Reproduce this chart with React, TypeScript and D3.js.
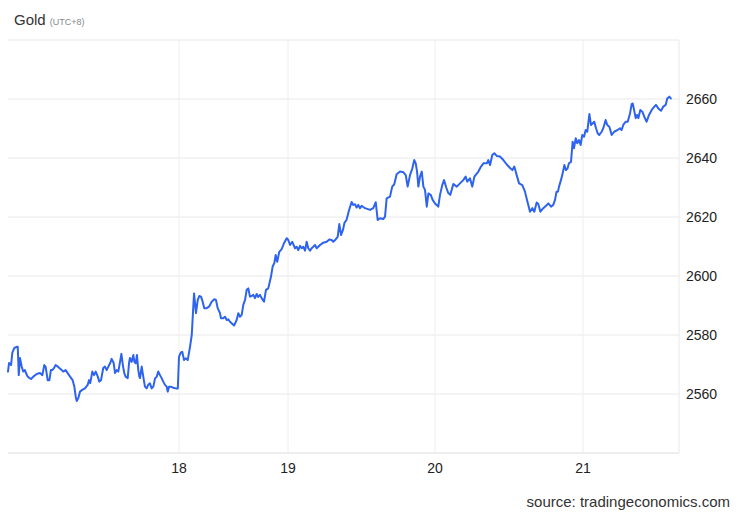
import React from "react";
import * as d3 from "d3";

// time as fractional day of month (UTC+8), price in USD/t.oz
const times = [
  17.0, 17.006, 17.018, 17.025, 17.037, 17.051, 17.057, 17.063, 17.07, 17.08,
  17.089, 17.099, 17.105, 17.115, 17.125, 17.135, 17.148, 17.168, 17.187, 17.201,
  17.212, 17.22, 17.232, 17.242, 17.251, 17.259, 17.269, 17.279, 17.291, 17.3,
  17.314, 17.323, 17.337, 17.349, 17.363, 17.378, 17.388, 17.396, 17.402, 17.411,
  17.421, 17.434, 17.45, 17.466, 17.474, 17.481, 17.493, 17.503, 17.513, 17.525,
  17.534, 17.544, 17.557, 17.567, 17.577, 17.587, 17.598, 17.606, 17.618, 17.626,
  17.636, 17.645, 17.655, 17.663, 17.673, 17.68, 17.688, 17.7, 17.708, 17.713,
  17.723, 17.733, 17.739, 17.747, 17.754, 17.762, 17.768, 17.772, 17.782, 17.791,
  17.801, 17.811, 17.82, 17.83, 17.84, 17.85, 17.86, 17.87, 17.879, 17.889,
  17.899, 17.908, 17.918, 17.928, 17.934, 17.942, 17.953, 17.967, 17.981, 17.993,
  18.0, 18.016, 18.03, 18.046, 18.061, 18.08, 18.101, 18.117, 18.128, 18.138,
  18.156, 18.172, 18.186, 18.202, 18.217, 18.232, 18.254, 18.275, 18.3, 18.324,
  18.339, 18.355, 18.376, 18.385, 18.406, 18.422, 18.438, 18.452, 18.468, 18.483,
  18.505, 18.529, 18.544, 18.56, 18.575, 18.59, 18.606, 18.621, 18.636, 18.651,
  18.667, 18.682, 18.697, 18.713, 18.727, 18.743, 18.758, 18.78, 18.798, 18.819,
  18.844, 18.859, 18.874, 18.887, 18.901, 18.92, 18.942, 18.963, 18.988,
  19.002, 19.014, 19.029, 19.048, 19.059, 19.07, 19.082, 19.093, 19.104, 19.116,
  19.127, 19.138, 19.15, 19.161, 19.172, 19.184, 19.195, 19.206, 19.218, 19.24,
  19.263, 19.281, 19.297, 19.308, 19.324, 19.338, 19.349, 19.361, 19.374, 19.384,
  19.398, 19.412, 19.422, 19.433, 19.444, 19.456, 19.467, 19.478, 19.49, 19.501,
  19.512, 19.524, 19.558, 19.58, 19.597, 19.61, 19.626, 19.648, 19.66, 19.671,
  19.694, 19.709, 19.723, 19.739, 19.762, 19.784, 19.801, 19.814, 19.83, 19.846,
  19.859, 19.869, 19.878, 19.887, 19.898, 19.91, 19.921, 19.932, 19.944, 19.955,
  19.971, 19.984, 20.0,
  20.011, 20.022, 20.034, 20.049, 20.061, 20.076, 20.09, 20.103, 20.124, 20.147,
  20.169, 20.191, 20.207, 20.218, 20.236, 20.252, 20.266, 20.293, 20.311, 20.327,
  20.35, 20.36, 20.372, 20.387, 20.401, 20.417, 20.439, 20.462, 20.485, 20.507,
  20.523, 20.536, 20.552, 20.568, 20.59, 20.608, 20.62, 20.642, 20.658, 20.671,
  20.687, 20.698, 20.712, 20.726, 20.743, 20.766, 20.784, 20.799, 20.811, 20.821,
  20.831, 20.838, 20.851, 20.86, 20.874, 20.885, 20.896, 20.905, 20.919, 20.93,
  20.939, 20.951, 20.961, 20.973, 20.984, 20.995,
  21.007, 21.018, 21.029, 21.043, 21.054, 21.066, 21.076, 21.088, 21.099, 21.11,
  21.126, 21.137, 21.153, 21.164, 21.178, 21.194, 21.211, 21.234, 21.25, 21.261,
  21.272, 21.288, 21.302, 21.318, 21.329, 21.336, 21.345, 21.356, 21.365, 21.374,
  21.387, 21.401, 21.414, 21.43, 21.446, 21.464, 21.482, 21.493, 21.509, 21.527,
  21.542, 21.559, 21.569, 21.583, 21.593,
];

const prices = [
  2567.6, 2570.5, 2569.8, 2573.9, 2575.6, 2576.0, 2576.0, 2566.4, 2572.2, 2569.3,
  2567.6, 2568.1, 2567.1, 2565.9, 2565.4, 2565.1, 2565.9, 2566.8, 2567.1, 2566.4,
  2569.8, 2569.3, 2564.7, 2564.7, 2568.1, 2568.1, 2568.8, 2569.8, 2569.3, 2568.8,
  2568.1, 2567.6, 2568.1, 2567.1, 2565.9, 2564.7, 2562.5, 2559.1, 2557.6, 2558.6,
  2560.8, 2561.4, 2561.9, 2563.1, 2564.7, 2563.7, 2567.6, 2566.4, 2567.6, 2565.9,
  2564.2, 2564.7, 2568.8, 2569.3, 2568.1, 2569.3, 2570.5, 2571.9, 2570.5, 2567.1,
  2568.1, 2567.6, 2570.8, 2573.6, 2569.3, 2567.1, 2565.9, 2565.4, 2570.5, 2572.2,
  2570.9, 2573.2, 2570.9, 2570.4, 2573.2, 2568.1, 2565.9, 2565.4, 2569.3, 2565.9,
  2562.5, 2561.9, 2563.1, 2563.6, 2561.9, 2562.5, 2565.3, 2565.9, 2567.6, 2566.4,
  2565.3, 2564.2, 2563.1, 2562.5, 2560.8, 2562.5, 2562.5, 2562.1, 2561.9, 2561.9,
  2572.6, 2574.0, 2574.3, 2571.5, 2572.1, 2571.5, 2576.0, 2580.0, 2587.5, 2594.1,
  2587.4, 2591.9, 2593.2, 2593.0, 2591.3, 2589.1, 2589.1, 2589.6, 2591.3, 2592.1,
  2591.9, 2589.1, 2587.4, 2585.7, 2585.7, 2586.2, 2585.1, 2585.3, 2584.5, 2584.0,
  2583.2, 2585.1, 2587.4, 2586.2, 2586.8, 2590.2, 2591.9, 2595.3, 2595.8, 2593.0,
  2593.2, 2593.6, 2592.5, 2593.9, 2592.9, 2593.6, 2592.5, 2591.3, 2595.3, 2595.8,
  2599.8, 2603.2, 2604.3, 2607.1, 2604.8, 2608.2, 2609.1, 2611.1, 2612.8,
  2612.2, 2610.5, 2611.6, 2609.4, 2609.9, 2608.8, 2610.2, 2609.4, 2609.9, 2608.6,
  2611.6, 2609.4, 2608.6, 2609.4, 2609.9, 2610.5, 2609.4, 2609.9, 2610.5, 2611.3,
  2611.6, 2612.4, 2612.2, 2611.6, 2612.4, 2613.3, 2617.6, 2613.9, 2615.6, 2618.0,
  2619.0, 2621.7, 2623.4, 2625.1, 2624.1, 2624.3, 2623.2, 2624.1, 2623.0, 2623.8,
  2623.4, 2623.0, 2622.4, 2623.0, 2625.0, 2619.0, 2619.6, 2619.3, 2620.1, 2626.3,
  2626.9, 2630.3, 2631.1, 2634.5, 2635.4, 2635.2, 2634.2, 2630.3, 2634.2, 2636.5,
  2639.3, 2638.2, 2635.4, 2630.3, 2633.7, 2635.4, 2630.3, 2629.2, 2623.5, 2628.0,
  2627.5, 2625.8, 2624.6,
  2624.1, 2623.5, 2627.5, 2630.8, 2632.5, 2630.0, 2628.1, 2627.5, 2631.2, 2630.3,
  2631.4, 2632.5, 2633.7, 2632.0, 2633.1, 2630.3, 2633.7, 2635.4, 2637.1, 2638.2,
  2638.2, 2639.3, 2637.6, 2641.0, 2641.6, 2640.7, 2640.5, 2639.3, 2637.8, 2636.6,
  2635.9, 2637.1, 2634.2, 2631.4, 2630.8, 2628.6, 2626.1, 2621.8, 2623.0, 2621.8,
  2624.9, 2624.4, 2621.8, 2622.7, 2623.5, 2624.6, 2623.5, 2624.1, 2625.8, 2628.6,
  2628.6, 2630.3, 2632.5, 2634.2, 2637.6, 2635.9, 2636.5, 2638.2, 2638.7, 2645.5,
  2643.3, 2646.7, 2645.0, 2646.1, 2644.4, 2647.8,
  2647.2, 2649.5, 2648.9, 2654.9, 2651.2, 2651.8, 2652.3, 2650.1, 2648.4, 2647.8,
  2648.9, 2650.1, 2652.9, 2651.2, 2650.6, 2647.8, 2648.9, 2649.5, 2650.1, 2649.5,
  2651.2, 2652.3, 2652.3, 2655.2, 2658.3, 2658.5, 2656.3, 2653.5, 2654.6, 2653.5,
  2656.3, 2655.7, 2654.0, 2652.3, 2654.6, 2656.3, 2657.4, 2658.0, 2656.8, 2656.0,
  2657.4, 2658.0, 2660.2, 2660.8, 2660.2,
];

const dayTicks = [18, 19, 20, 21];
const dayLabels = ["18", "19", "20", "21"];
const priceTicks = [2560, 2580, 2600, 2620, 2640, 2660];
const gridLevels = [2540, 2560, 2580, 2600, 2620, 2640, 2660, 2680];
const title = "Gold";
const subtitle = "(UTC+8)";
const source = "source: tradingeconomics.com";

const W = 740;
const H = 513;
const FONT = "'Liberation Sans', Arial, Helvetica, sans-serif";

export default function App() {
  // trading-session axis: day boundaries are not equally spaced
  const x = d3
    .scaleLinear()
    .domain([17, 18, 19, 20, 21, 21.6486])
    .range([8, 179, 288, 435, 583, 679]);
  const y = d3.scaleLinear().domain([2540, 2680]).range([453, 40]);

  const data = times.map((t, i) => ({ t, v: prices[i] }));
  const line = d3
    .line<{ t: number; v: number }>()
    .x((d) => x(d.t))
    .y((d) => y(d.v))
    .curve(d3.curveLinear);

  const x0 = x(17);
  const x1 = x(21.6486);

  return (
    <svg
      width={W}
      height={H}
      style={{ position: "absolute", left: 0, top: 0, background: "#fff" }}
      fontFamily={FONT}
    >
      <text x={14} y={25} fontSize={15} fill="#333">
        {title}
        <tspan fontSize={9} fill="#888" dx={4}>
          {subtitle}
        </tspan>
      </text>

      {gridLevels.map((g) => (
        <line
          key={"h" + g}
          x1={x0}
          x2={x1}
          y1={y(g)}
          y2={y(g)}
          stroke={g === 2540 ? "#dcdcdc" : "#e8e8e8"}
          strokeWidth={1}
        />
      ))}
      {dayTicks.map((d) => (
        <line
          key={"v" + d}
          x1={x(d)}
          x2={x(d)}
          y1={y(2680)}
          y2={y(2540)}
          stroke="#eeeeee"
          strokeWidth={1}
        />
      ))}
      <line x1={x1} x2={x1} y1={y(2680)} y2={y(2540)} stroke="#e8e8e8" strokeWidth={1} />

      <path
        d={line(data) || ""}
        fill="none"
        stroke="#2d63ee"
        strokeWidth={2}
        strokeLinejoin="round"
        strokeLinecap="round"
      />

      {priceTicks.map((p) => (
        <text
          key={"yl" + p}
          x={686}
          y={y(p)}
          dy="0.35em"
          fontSize={14}
          fill="#222"
        >
          {p}
        </text>
      ))}
      {dayTicks.map((d, i) => (
        <text
          key={"xl" + d}
          x={x(d)}
          y={473}
          textAnchor="middle"
          fontSize={14}
          fill="#222"
        >
          {dayLabels[i]}
        </text>
      ))}

      <text x={730} y={507} textAnchor="end" fontSize={15} fill="#333">
        {source}
      </text>
    </svg>
  );
}
